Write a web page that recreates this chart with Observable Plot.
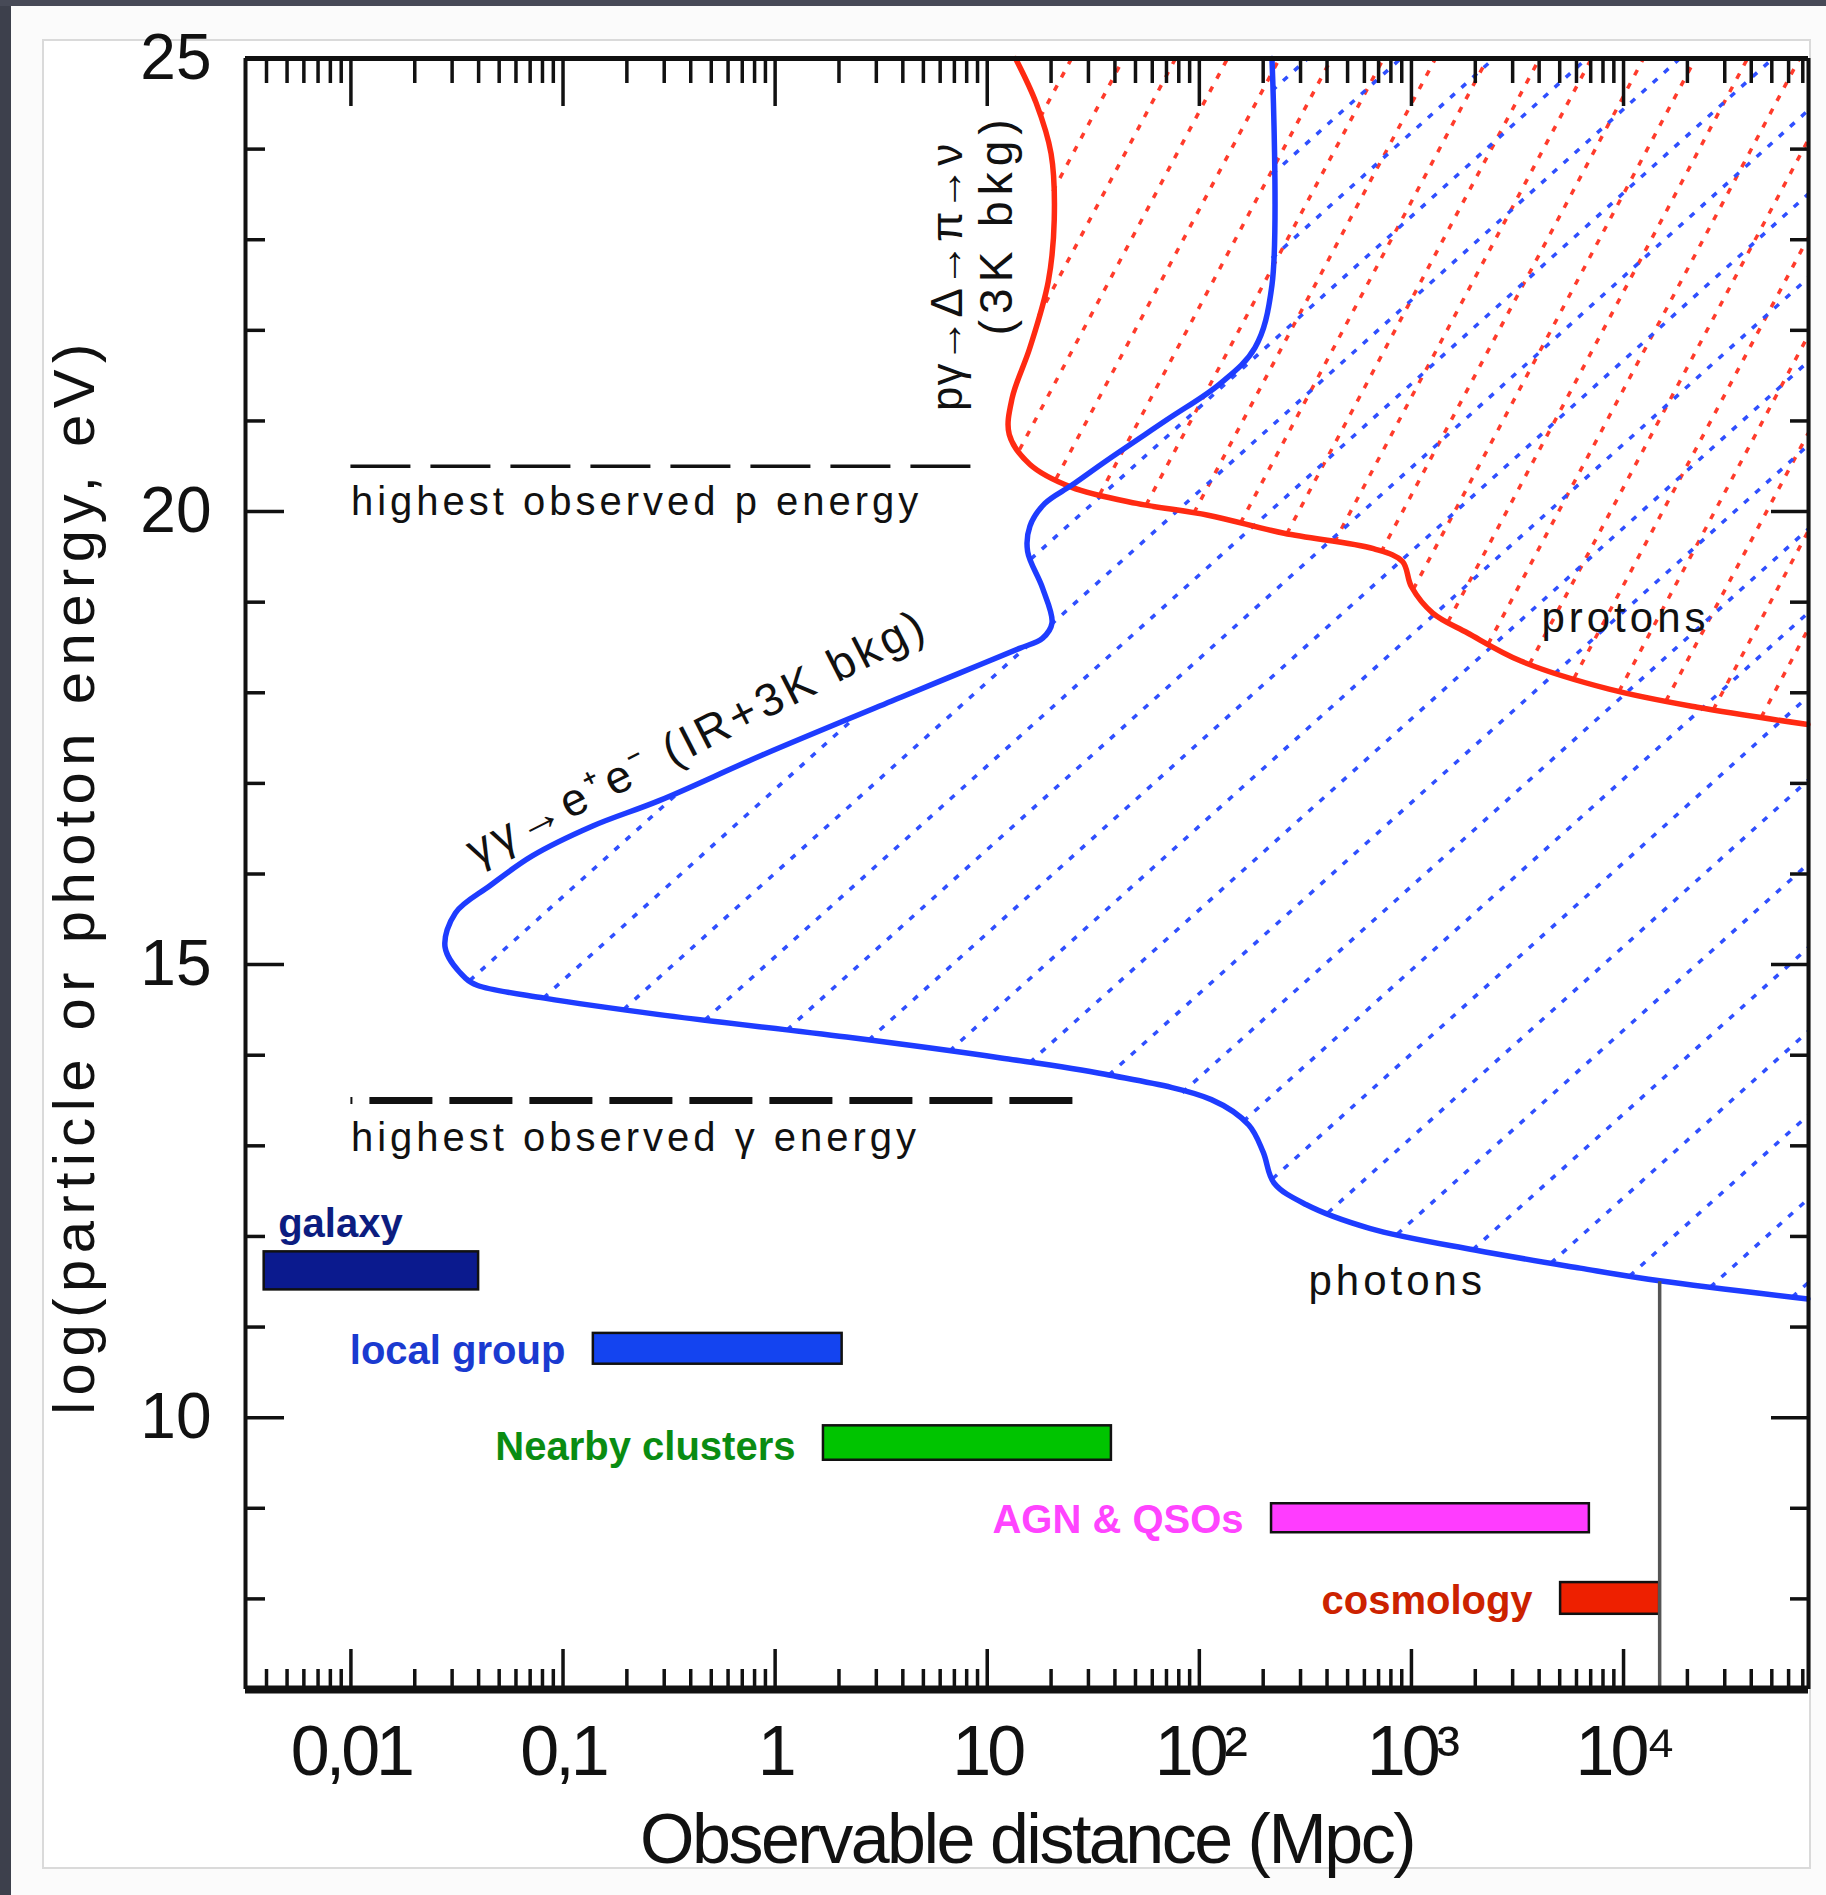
<!DOCTYPE html>
<html>
<head>
<meta charset="utf-8">
<script src="https://cdn.jsdelivr.net/npm/d3@7"></script>
<script src="https://cdn.jsdelivr.net/npm/@observablehq/plot@0.6"></script>
<style>
  html, body { margin: 0; padding: 0; background: #fbfbfb; }
  #page { position: relative; width: 1826px; height: 1895px; overflow: hidden; }
  .strip-left { position: absolute; left: 0; top: 0; width: 11px; height: 1895px; background: #3d404c; }
  .strip-top { position: absolute; left: 0; top: 0; width: 1826px; height: 6px; background: #474a57; }
  .panel { position: absolute; left: 42px; top: 39px; width: 1769px; height: 1830px; box-sizing: border-box;
           background: #fff; border: 2px solid #dadada; }
  #chart { position: absolute; left: 0; top: 0; }
  #chart svg { display: block; }
  g[aria-label="x-axis tick label"] text { letter-spacing: -4px; }
  text[aria-label="y-title"] { letter-spacing: 6.5px; }
  text[aria-label="x-title"] { letter-spacing: -2.5px; }
  text[aria-label="threshold-note"] { letter-spacing: 4px; }
  text[aria-label="curve-name"] { letter-spacing: 4px; }
  text[aria-label="process-pgamma"] { letter-spacing: 1px; }
  text[aria-label="process-bkg"] { letter-spacing: 6px; }
  text[aria-label="process-gg"] { letter-spacing: 4px; }
</style>
</head>
<body>
<div id="page">
  <div class="strip-left"></div>
  <div class="strip-top"></div>
  <div class="panel"></div>
  <div id="chart"></div>
</div>
<script>
// Attenuation boundary for photons: observable distance (Mpc) vs log10 energy (eV)
const photonDist = [220, 220, 183, 125, 70, 36.9, 25, 18.7, 15.9, 15.5,
                    18.2, 20.2, 18.2, 14.2, 7.45, 3.92, 0.865, 0.284, 0.138, 0.0716,
                    0.0452, 0.0311, 0.0278, 0.0347, 0.0396, 0.0817, 0.303, 2.17, 11.6, 36,
                    114, 171, 200, 225, 320, 635, 1990, 6240, 14800, 74000];
const photonLogE = [25, 22.5, 21.81, 21.41, 21.01, 20.57, 20.29, 20.09, 19.84, 19.56,
                    19.16, 18.77, 18.6, 18.49, 18.22, 17.95, 17.31, 16.81, 16.53, 16.2,
                    15.87, 15.57, 15.19, 14.85, 14.77, 14.63, 14.44, 14.2, 13.97, 13.79,
                    13.51, 13.23, 12.93, 12.59, 12.35, 12.09, 11.85, 11.65, 11.51, 11.31];

// Attenuation boundary for protons (photo-pion production on the 3K background)
const protonDist = [13.6, 17.0, 20.0, 20.7, 19.4, 15.9, 13.1, 12.7, 15.9, 24.9,
                    50.6, 110, 251, 662, 906, 1000, 1260, 1840, 3280, 8550, 22300, 74000];
const protonLogE = [25, 24.51, 23.95, 23.22, 22.54, 21.81, 21.25, 20.85, 20.52, 20.27,
                    20.09, 19.96, 19.76, 19.59, 19.45, 19.17, 18.88, 18.66, 18.35, 18.04, 17.84, 17.65];

// Distance scales of astrophysical sources
const sources    = ["galaxy", "local group", "Nearby clusters", "AGN & QSOs", "cosmology"];
const sourceMin  = [0.0039, 0.139, 1.69, 219, 5050];
const sourceMax  = [0.04, 2.07, 38.5, 6900, 14800];
const sourceLow  = [11.41, 10.59, 9.53, 8.73, 7.83];
const sourceHigh = [11.83, 10.93, 9.91, 9.05, 8.18];
const sourceFill = ["#0b1a8e", "#1444f0", "#00c400", "#ff3cff", "#ee2000"];
const sourceInk  = ["#0c1d80", "#1a3ad0", "#0a8c12", "#ff44ff", "#cc2200"];

// Horizon (Hubble radius) and highest observed energies
const hubbleDist = 14800;
const hubbleTopE = 11.5;
const pEnergyMax = 20.5, pEnergyReach = 8.6;
const gammaEnergyMax = 13.5, gammaReach = 25.5;

// Axis ticks
const yTicks = [10, 15, 20, 25];
const xTicks = [0.01, 0.1, 1, 10, 100, 1000, 10000];
const xTickLabels = ["0,01", "0,1", "1", "10", "10²", "10³", "10⁴"];

// ---- layout ----
const W = 1826, H = 1895;
const mL = 245, mR = 18, mT = 58, mB = 206;
const lxMin = -2.497, lxMax = 4.872, yMin = 7, yMax = 25;
const ppdX = (W - mL - mR) / (lxMax - lxMin);   // px per decade
const ppuY = (H - mT - mB) / (yMax - yMin);     // px per energy unit

const photonRows = photonDist.map((d, i) => ({d, e: photonLogE[i]}));
const protonRows = protonDist.map((d, i) => ({d, e: protonLogE[i]}));
const sourceRows = sources.map((name, i) => ({
  name, x1: sourceMin[i], x2: sourceMax[i], y1: sourceLow[i], y2: sourceHigh[i],
  fill: sourceFill[i], ink: sourceInk[i]
}));

// Region to the right of a boundary, in (log10 distance, energy), closed along the top-right corner
function region(dist, logE) {
  const pts = dist.map((d, i) => [Math.log10(d), logE[i]]);
  pts.push([lxMax, yMax]);
  return pts;
}

// Parallel hatch segments y = slope*log10(x) + c clipped to a polygon
function hatch(poly, slope, step, phase) {
  const segs = [];
  const cMin = yMin - slope * lxMax, cMax = yMax - slope * lxMin;
  for (let c = Math.floor((cMin - phase) / step) * step + phase; c <= cMax; c += step) {
    const ts = [];
    for (let i = 0; i < poly.length; i++) {
      const [ax, ay] = poly[i], [bx, by] = poly[(i + 1) % poly.length];
      const fa = ay - slope * ax - c, fb = by - slope * bx - c;
      if ((fa < 0) !== (fb < 0)) {
        const t = fa / (fa - fb);
        ts.push(ax + t * (bx - ax));
      }
    }
    ts.sort((a, b) => a - b);
    for (let k = 0; k + 1 < ts.length; k += 2) {
      segs.push({x1: 10 ** ts[k], y1: slope * ts[k] + c, x2: 10 ** ts[k + 1], y2: slope * ts[k + 1] + c});
    }
  }
  return segs;
}

const degSlope = (deg) => Math.tan(deg * Math.PI / 180) * ppdX / ppuY;
const blueSlope = degSlope(42), redSlope = degSlope(62);
const blueHatch = hatch(region(photonDist, photonLogE), blueSlope, blueSlope * 93 / ppdX, 0.3);
const redHatch = hatch(region(protonDist, protonLogE), redSlope, redSlope * 52 / ppdX, 0.5);

// Log ticks on the distance axis, integer ticks on the energy axis
const xTickMarks = [];
for (let e = -3; e <= 4; e++) {
  for (let m = 1; m <= 9; m++) {
    const v = m * 10 ** e, lv = Math.log10(v);
    if (lv > lxMin + 1e-6 && lv < lxMax - 1e-6) xTickMarks.push({v, major: m === 1});
  }
}
const yTickMarks = d3.range(8, 25).map(v => ({v, major: v % 5 === 0}));

const xLo = 10 ** lxMin, xHi = 10 ** lxMax;
const tag = (name) => () => name;

const chart = Plot.plot({
  width: W, height: H,
  marginLeft: mL, marginRight: mR, marginTop: mT, marginBottom: mB,
  x: {type: "log", domain: [xLo, xHi], axis: null},
  y: {domain: [yMin, yMax], axis: null},
  style: {background: "transparent", fontFamily: "'Liberation Sans', Arial, sans-serif", color: "#111"},
  marks: [
    // hatching of the regions beyond each attenuation boundary
    Plot.link(redHatch, {x1: "x1", y1: "y1", x2: "x2", y2: "y2",
      stroke: "#ff3b2b", strokeWidth: 3.5, strokeDasharray: "6,9"}),
    Plot.link(blueHatch, {x1: "x1", y1: "y1", x2: "x2", y2: "y2",
      stroke: "#2f4fff", strokeWidth: 3.5, strokeDasharray: "6,9"}),

    // attenuation boundaries
    Plot.line(protonRows, {x: "d", y: "e", stroke: "#ff2a12", strokeWidth: 5.5, curve: "catmull-rom"}),
    Plot.line(photonRows, {x: "d", y: "e", stroke: "#1e3cff", strokeWidth: 5.5, curve: "catmull-rom"}),

    // highest observed energies
    Plot.ruleY([pEnergyMax], {x1: 0.01, x2: pEnergyReach, stroke: "#111", strokeWidth: 3.5, strokeDasharray: "60,20"}),
    Plot.ruleY([gammaEnergyMax], {x1: 0.01, x2: gammaReach, stroke: "#111", strokeWidth: 7,
      strokeDasharray: "63,17", strokeDashoffset: 61}),
    Plot.text([pEnergyMax], {x: 0.01, y: d => d, text: () => "highest observed p energy", dy: 49,
      textAnchor: "start", lineAnchor: "bottom", fontSize: 40, ariaLabel: tag("threshold-note")}),
    Plot.text([gammaEnergyMax], {x: 0.01, y: d => d, text: () => "highest observed γ energy", dy: 50,
      textAnchor: "start", lineAnchor: "bottom", fontSize: 40, ariaLabel: tag("threshold-note")}),

    // source distance ranges
    Plot.rect(sourceRows, {x1: "x1", x2: "x2", y1: "y1", y2: "y2", fill: "fill", stroke: "#111", strokeWidth: 2.5}),
    Plot.text(sourceRows.slice(1), {x: "x1", y: "y1", text: "name", fill: "ink", dx: -28,
      textAnchor: "end", lineAnchor: "bottom", fontSize: 40, fontWeight: "bold"}),
    Plot.text(sourceRows.slice(0, 1), {x: "x1", y: "y2", text: "name", fill: "ink", dx: 14, dy: -15,
      textAnchor: "start", lineAnchor: "bottom", fontSize: 40, fontWeight: "bold"}),
    Plot.ruleX([hubbleDist], {y1: yMin, y2: hubbleTopE, stroke: "#555", strokeWidth: 3.5}),

    // curve and process labels
    Plot.text([{t: "photons", x: 327, y: 11.35}, {t: "protons", x: 4100, y: 18.67}],
      {x: "x", y: "y", text: "t", textAnchor: "start", lineAnchor: "bottom", fontSize: 42, ariaLabel: tag("curve-name")}),
    Plot.text([{t: "pγ→Δ→π→ν", x: 7.64, y: 22.59}],
      {x: "x", y: "y", text: "t", rotate: -90, lineAnchor: "bottom", fontSize: 44, ariaLabel: tag("process-pgamma")}),
    Plot.text([{t: "(3K bkg)", x: 13.15, y: 23.17}],
      {x: "x", y: "y", text: "t", rotate: -90, lineAnchor: "bottom", fontSize: 46, ariaLabel: tag("process-bkg")}),
    Plot.text([{t: "γγ→e⁺e⁻ (IR+3K bkg)", x: 0.039, y: 16.08}],
      {x: "x", y: "y", text: "t", rotate: -27, textAnchor: "start", lineAnchor: "bottom", fontSize: 46, ariaLabel: tag("process-gg")}),

    // frame
    Plot.ruleY([yMin], {stroke: "#111", strokeWidth: 8}),
    Plot.ruleY([yMax], {stroke: "#111", strokeWidth: 5}),
    Plot.ruleX([xLo], {stroke: "#111", strokeWidth: 4}),
    Plot.ruleX([xHi], {stroke: "#111", strokeWidth: 4}),

    // inward ticks on all four sides
    Plot.ruleX(xTickMarks, {x: "v", y1: yMin, y2: d => yMin + (d.major ? 40 : 20) / ppuY, stroke: "#111", strokeWidth: 3.5}),
    Plot.ruleX(xTickMarks, {x: "v", y1: yMax, y2: d => yMax - (d.major ? 48 : 25) / ppuY, stroke: "#111", strokeWidth: 3.5}),
    Plot.ruleY(yTickMarks, {y: "v", x1: xLo, x2: d => 10 ** (lxMin + (d.major ? 39 : 20) / ppdX), stroke: "#111", strokeWidth: 3.5}),
    Plot.ruleY(yTickMarks, {y: "v", x1: xHi, x2: d => 10 ** (lxMax - (d.major ? 37 : 18) / ppdX), stroke: "#111", strokeWidth: 3.5}),

    // tick labels
    Plot.axisX({anchor: "bottom", ticks: xTicks, tickFormat: d => xTickLabels[xTicks.indexOf(d)],
      tickSize: 0, tickPadding: 36, fontSize: 70, label: null}),
    Plot.axisY({anchor: "left", ticks: yTicks, tickSize: 0, tickPadding: 34, fontSize: 64, label: null}),

    // axis titles
    Plot.text(["log(particle or photon energy, eV)"], {frameAnchor: "left", text: d => d, rotate: -90,
      textAnchor: "middle", dx: -152, dy: 2, lineAnchor: "bottom", fontSize: 58, ariaLabel: tag("y-title")}),
    Plot.text(["Observable distance (Mpc)"], {frameAnchor: "bottom", text: d => d, textAnchor: "middle",
      dx: 0, dy: 173, lineAnchor: "bottom", fontSize: 70, ariaLabel: tag("x-title")})
  ]
});

document.getElementById("chart").appendChild(chart);
</script>
</body>
</html>
